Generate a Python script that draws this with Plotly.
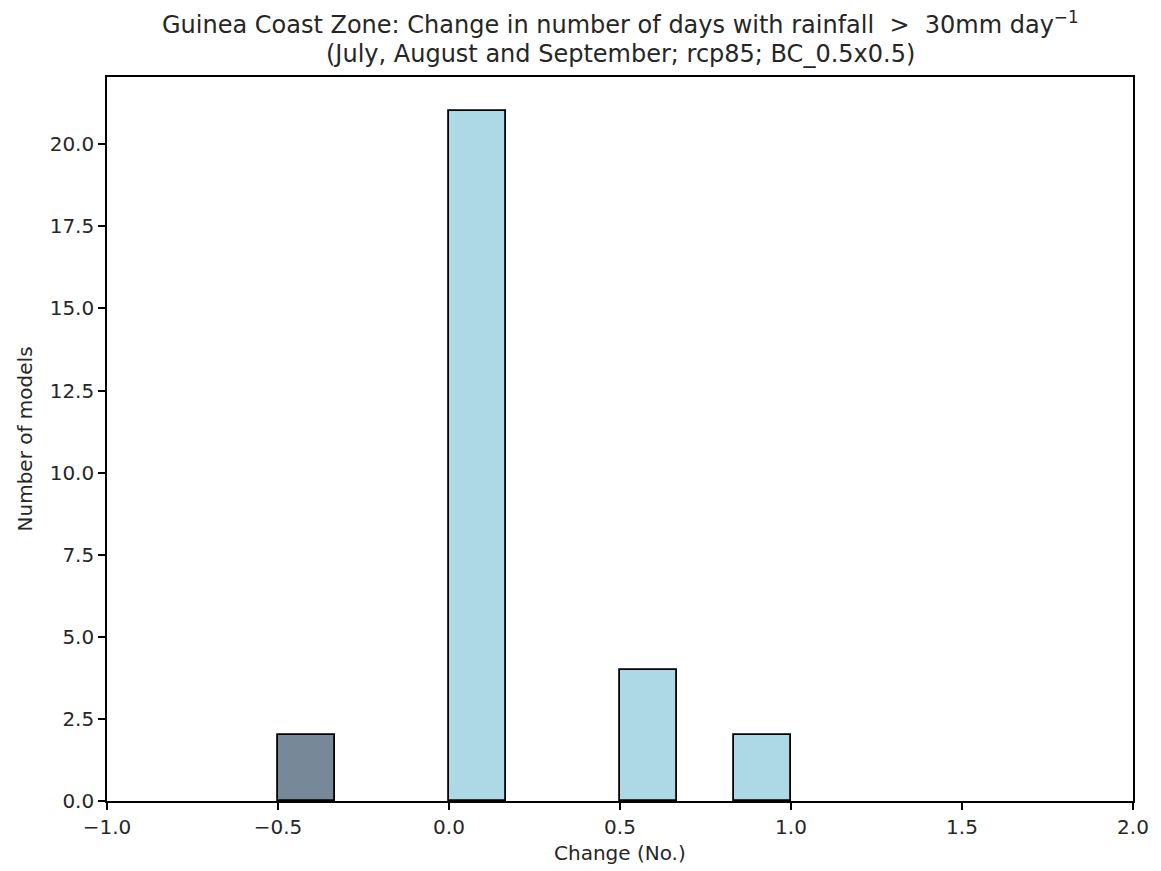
import plotly.graph_objects as go

# histogram bin left edges, counts, colors
bin_left = [-0.5, 0.0, 0.5, 0.8333333]
counts = [2, 21, 4, 2]
bar_colors = ["#778899", "#ADD8E6", "#ADD8E6", "#ADD8E6"]
bin_width = 1 / 6

x_ticks = [-1.0, -0.5, 0.0, 0.5, 1.0, 1.5, 2.0]
y_ticks = [0.0, 2.5, 5.0, 7.5, 10.0, 12.5, 15.0, 17.5, 20.0]

title_line1 = "Guinea Coast Zone: Change in number of days with rainfall &nbsp;&gt;&nbsp; 30mm day<sup>\u22121</sup>"
title_line2 = "(July, August and September; rcp85; BC_0.5x0.5)"
x_label = "Change (No.)"
y_label = "Number of models"

def fmt(v):
    return f"{v:.1f}".replace("-", "\u2212")

fig = go.Figure()
fig.add_trace(go.Bar(
    x=bin_left, y=counts, width=[bin_width] * len(bin_left), offset=0,
    marker=dict(color=bar_colors, line=dict(color="black", width=1.8)),
    showlegend=False,
))

font = "DejaVu Sans"
axis_common = dict(
    showline=True, linecolor="black", linewidth=1.6, mirror=True,
    ticks="outside", ticklen=7, tickwidth=1.6, tickcolor="black",
    showgrid=False, zeroline=False,
    tickfont=dict(family=font, size=20, color="#262626"),
)
fig.update_layout(
    width=1161, height=871,
    paper_bgcolor="white", plot_bgcolor="white",
    margin=dict(l=107, r=22, t=77, b=70),
    font=dict(family=font, color="black"),
    bargap=0,
    xaxis=dict(range=[-1, 2], tickvals=x_ticks, ticktext=[fmt(v) for v in x_ticks], **axis_common),
    yaxis=dict(range=[0, 22.05], tickvals=y_ticks, ticktext=[fmt(v) for v in y_ticks], **axis_common),
)

H = 801 - 77
W = 1139 - 107
def py(p):
    return (801 - p) / H
def px(p):
    return (p - 107) / W

ann_font = dict(family=font, color="#262626")
fig.add_annotation(text=title_line1, xref="paper", yref="paper", x=0.5, y=py(23),
                   xanchor="center", yanchor="middle", showarrow=False, font=dict(size=24, **ann_font))
fig.add_annotation(text=title_line2, xref="paper", yref="paper", x=0.5, y=py(54),
                   xanchor="center", yanchor="middle", showarrow=False, font=dict(size=24, **ann_font))
fig.add_annotation(text=x_label, xref="paper", yref="paper", x=0.5, y=py(853),
                   xanchor="center", yanchor="middle", showarrow=False, font=dict(size=20, **ann_font))
fig.add_annotation(text=y_label, xref="paper", yref="paper", x=px(25), y=0.5, textangle=-90,
                   xanchor="center", yanchor="middle", showarrow=False, font=dict(size=20, **ann_font))

fig.write_html("out.html", config={"displayModeBar": False},
               post_script="document.body.style.margin='0';")
